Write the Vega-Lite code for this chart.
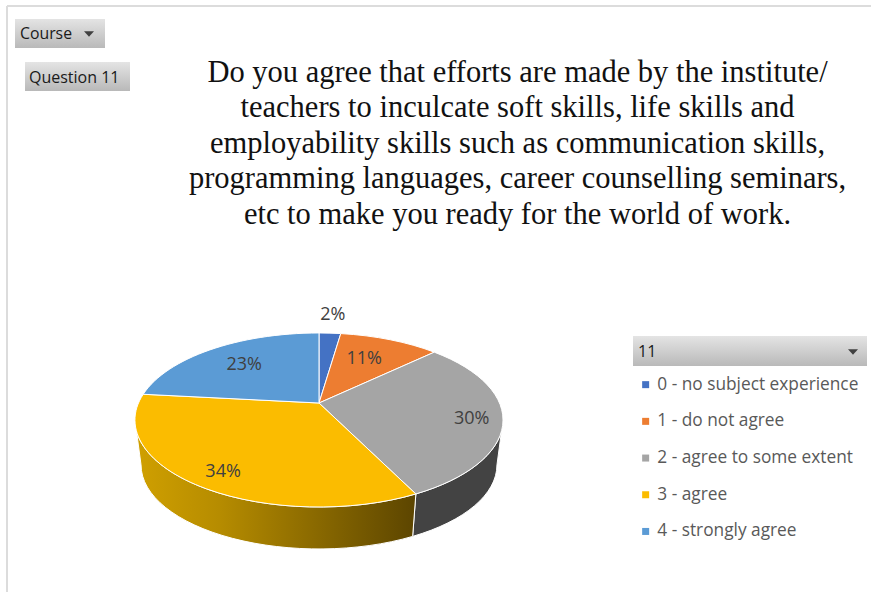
{
"$schema":"https://vega.github.io/schema/vega-lite/v6.json",
"width":871,"height":592,"padding":0,"autosize":{"type":"none"},"background":"white",
"title":{"text":["Do you agree that efforts are made by the institute/","teachers to inculcate soft skills, life skills and","employability skills such as communication skills,","programming languages, career counselling seminars,","etc to make you ready for the world of work."],
"font":"Liberation Serif","fontSize":30.5,"fontWeight":"normal","lineHeight":35.5,"color":"#111111","anchor":"middle","align":"center","baseline":"top","dx":82,"dy":230,"offset":0},
"config":{"view":{"stroke":null}},
"data":{"values":[
{"category":"0 - no subject experience","percent":2.3},
{"category":"1 - do not agree","percent":10.6},
{"category":"2 - agree to some extent","percent":29.8},
{"category":"3 - agree","percent":34.0},
{"category":"4 - strongly agree","percent":23.3}]},
"transform":[
{"window":[{"op":"sum","field":"percent","as":"p1"}],"sort":[{"field":"category"}]},
{"calculate":"round(datum.percent)","as":"pr"},
{"calculate":"2*PI*(datum.p1-datum.percent)/100","as":"a0"},
{"calculate":"2*PI*datum.p1/100","as":"a1"},
{"calculate":"(datum.a0+datum.a1)/2","as":"am"},
{"calculate":"max(datum.a0,1.7664)","as":"w0"},
{"calculate":"min(datum.a1,4.5168)","as":"w1"},
{"calculate":"180.5*sin(datum.a0)/(1+0.195*cos(datum.a0))","as":"xa0"},
{"calculate":"-83.7*cos(datum.a0)/(1+0.195*cos(datum.a0))","as":"ya0"},
{"calculate":"180.5*sin(datum.a1)/(1+0.195*cos(datum.a1))","as":"xa1"},
{"calculate":"-83.7*cos(datum.a1)/(1+0.195*cos(datum.a1))","as":"ya1"},
{"calculate":"180.5*sin(datum.w0)/(1+0.195*cos(datum.w0))","as":"xw0"},
{"calculate":"-83.7*cos(datum.w0)/(1+0.195*cos(datum.w0))","as":"yw0"},
{"calculate":"180.5*sin(datum.w1)/(1+0.195*cos(datum.w1))","as":"xw1"},
{"calculate":"-83.7*cos(datum.w1)/(1+0.195*cos(datum.w1))","as":"yw1"},
{"calculate":"'M0,0L'+datum.xa0+','+datum.ya0+'A184,87 0 0 1 '+datum.xa1+','+datum.ya1+'Z'","as":"slicePath"},
{"calculate":"'M'+datum.xw0+','+datum.yw0+'A184,87 0 0 1 '+datum.xw1+','+datum.yw1+'L'+(datum.xw1*0.967)+','+(62+(datum.yw1-17)*0.9655)+'A178,84 0 0 0 '+(datum.xw0*0.967)+','+(62+(datum.yw0-17)*0.9655)+'Z'","as":"wallPath"},
{"calculate":"datum.pr==2?1.26:datum.pr==11?0.64:datum.pr==30?0.83:datum.pr==34?0.78:0.71","as":"lfx"},
{"calculate":"datum.pr==2?1.27:datum.pr==11?0.71:datum.pr==30?1:datum.pr==34?0.83:0.71","as":"lfy"},
{"calculate":"319+datum.lfx*180.5*sin(datum.am)/(1+0.195*cos(datum.am))","as":"lx"},
{"calculate":"403-datum.lfy*83.7*cos(datum.am)/(1+0.195*cos(datum.am))","as":"ly"},
{"calculate":"datum.pr+'%'","as":"pct"}
],
"layer":[
{"encoding":{
"x":{"datum":319,"type":"quantitative","scale":{"domain":[0,871],"range":[0,871],"nice":false,"zero":false},"axis":null},
"y":{"datum":403,"type":"quantitative","scale":{"domain":[0,592],"range":[0,592],"nice":false,"zero":false},"axis":null}
},
"layer":[
{"data":{"values":[{"frame":"edge"}]},"mark":{"type":"rule","color":"#dcdcdc","strokeWidth":2},"encoding":{"x":{"datum":7},"y":{"datum":6},"y2":{"datum":592}}},
{"data":{"values":[{"frame":"edge"}]},"mark":{"type":"rule","color":"#dcdcdc","strokeWidth":2},"encoding":{"x":{"datum":7},"x2":{"datum":871},"y":{"datum":6}}},
{"data":{"values":[{"button":"Course"}]},"mark":{"type":"rect","fill":{"gradient":"linear","x1":0,"y1":0,"x2":0,"y2":1,"stops":[{"offset":0,"color":"#e4e4e4"},{"offset":1,"color":"#b9b9b9"}]}},"encoding":{"x":{"datum":15},"x2":{"datum":105},"y":{"datum":19},"y2":{"datum":48}}},
{"data":{"values":[{"button":"Question 11"}]},"mark":{"type":"rect","fill":{"gradient":"linear","x1":0,"y1":0,"x2":0,"y2":1,"stops":[{"offset":0,"color":"#e4e4e4"},{"offset":1,"color":"#b9b9b9"}]}},"encoding":{"x":{"datum":25},"x2":{"datum":130},"y":{"datum":62},"y2":{"datum":91}}},
{"data":{"values":[{"button":"11"}]},"mark":{"type":"rect","fill":{"gradient":"linear","x1":0,"y1":0,"x2":0,"y2":1,"stops":[{"offset":0,"color":"#e4e4e4"},{"offset":1,"color":"#b9b9b9"}]}},"encoding":{"x":{"datum":633},"x2":{"datum":867},"y":{"datum":336},"y2":{"datum":366}}},
{"data":{"values":[{"button":"Course"}]},"mark":{"type":"text","font":"Open Sans","fontSize":15.8,"align":"left","baseline":"middle","color":"#1a1a1a"},"encoding":{"text":{"field":"button"},"x":{"datum":20},"y":{"datum":33.5}}},
{"data":{"values":[{"button":"Question 11"}]},"mark":{"type":"text","font":"Open Sans","fontSize":16,"align":"left","baseline":"middle","color":"#1a1a1a"},"encoding":{"text":{"field":"button"},"x":{"datum":29},"y":{"datum":77.5}}},
{"data":{"values":[{"button":"Course"}]},"mark":{"type":"point","shape":"M-1,-0.55L1,-0.55L0,0.55Z","filled":true,"fill":"#404040","opacity":1,"size":100},"encoding":{"x":{"datum":89},"y":{"datum":34}}},
{"data":{"values":[{"button":"11"}]},"mark":{"type":"point","shape":"M-1,-0.55L1,-0.55L0,0.55Z","filled":true,"fill":"#404040","opacity":1,"size":100},"encoding":{"x":{"datum":853},"y":{"datum":352}}},
{"transform":[{"filter":"datum.w1>datum.w0 && datum.pr==30"}],"mark":{"type":"point","filled":true,"opacity":1,"size":4,"fill":"#434343","stroke":"white","strokeWidth":1},"encoding":{"shape":{"field":"wallPath","type":"nominal","scale":null}}},
{"transform":[{"filter":"datum.w1>datum.w0 && datum.pr==34"}],"mark":{"type":"point","filled":true,"opacity":1,"size":4,"fill":{"gradient":"linear","x1":0,"y1":0,"x2":1,"y2":0,"stops":[{"offset":0,"color":"#d0a000"},{"offset":0.3,"color":"#b68c00"},{"offset":1,"color":"#5c4500"}]},"stroke":"white","strokeWidth":1},"encoding":{"shape":{"field":"wallPath","type":"nominal","scale":null}}},
{"mark":{"type":"point","filled":true,"opacity":1,"size":4,"stroke":"white","strokeWidth":1},"encoding":{
"shape":{"field":"slicePath","type":"nominal","scale":null},
"color":{"field":"category","type":"nominal","scale":{"domain":["0 - no subject experience","1 - do not agree","2 - agree to some extent","3 - agree","4 - strongly agree"],"range":["#4472C4","#ED7D31","#A5A5A5","#FBBC00","#5B9BD5"]},
"legend":{"orient":"none","legendX":638,"legendY":344,"title":"11","titleFont":"Open Sans","titleFontSize":16,"titleFontWeight":"normal","titleColor":"#1a1a1a","titlePadding":16,"symbolType":"square","symbolSize":49,"symbolStrokeWidth":0,"symbolOffset":-1,"labelFont":"Open Sans","labelFontSize":17.3,"labelColor":"#595959","labelOffset":3,"labelLimit":300,"rowPadding":18.7,"zindex":1}}}}
]},
{"mark":{"type":"text","font":"Open Sans","fontSize":18,"color":"#404040","dy":1},"encoding":{"text":{"field":"pct"},
"x":{"field":"lx","type":"quantitative","scale":{"domain":[0,871],"range":[0,871],"nice":false,"zero":false},"axis":null},
"y":{"field":"ly","type":"quantitative","scale":{"domain":[0,592],"range":[0,592],"nice":false,"zero":false},"axis":null}}}
]
}
